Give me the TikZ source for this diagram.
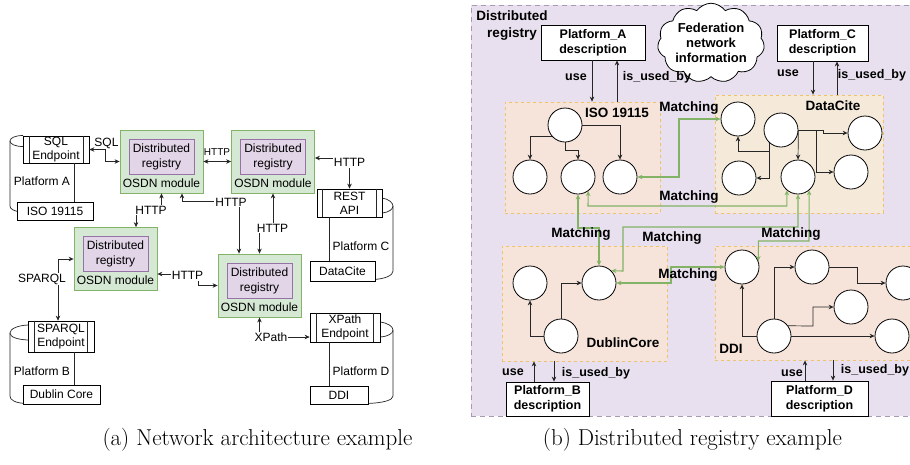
\documentclass[tikz,border=0pt]{standalone}
\usepackage{fontspec}
\newfontfamily\af{Liberation Sans}
\usetikzlibrary{arrows.meta,shapes.symbols}
\definecolor{gfill}{HTML}{D5E8D4}
\definecolor{gline}{HTML}{82B366}
\definecolor{pfill}{HTML}{E1D5E7}
\definecolor{pline}{HTML}{9673A6}
\definecolor{bgfill}{HTML}{E8E0EE}
\definecolor{bgline}{HTML}{A899B5}
\definecolor{ofill}{HTML}{F6E3DA}
\definecolor{yfill}{HTML}{F5EADA}
\definecolor{oline}{HTML}{F0C26A}
\definecolor{mgreen}{HTML}{82B366}
\tikzset{
  lbl/.style={font=\af\fontsize{12}{14}\selectfont, inner sep=1pt},
  wlbl/.style={lbl, fill=white},
  slbl/.style={font=\af\fontsize{10}{12}\selectfont, inner sep=1pt},
  module/.style={draw=gline, fill=gfill, line width=0.8pt, minimum width=83pt, minimum height=63pt, inner sep=0pt},
  inbox/.style={draw=pline, fill=pfill, line width=0.8pt, minimum width=65pt, minimum height=35pt, inner sep=0pt, align=center, font=\af\fontsize{12}{15}\selectfont},
  wbox/.style={draw, fill=white, line width=0.7pt, inner sep=0pt, align=center, font=\af\fontsize{12}{14}\selectfont},
  conn/.style={line width=0.7pt, draw=black!85},
  circ/.style={circle, draw, fill=white, minimum size=34pt, inner sep=0pt, line width=0.8pt},
  region/.style={draw=oline, dashed, line width=0.8pt, inner sep=0pt},
  bl/.style={font=\af\bfseries\fontsize{13.5}{17}\selectfont, inner sep=1pt},
  ul/.style={font=\af\bfseries\fontsize{12.5}{15}\selectfont, inner sep=1pt},
  desc/.style={draw, fill=white, line width=0.8pt, inner sep=0pt, align=center, font=\af\bfseries\fontsize{12.5}{15}\selectfont},
  match/.style={draw=mgreen, line width=1.1pt, <->},
  capt/.style={font=\fontsize{23}{27}\selectfont, inner sep=0pt}
}
\begin{document}
\begin{tikzpicture}[x=1pt,y=-1pt, >={Stealth[length=5pt,width=4.5pt]}]
\clip (0,0) rectangle (910,464);
\fill[white] (0,0) rectangle (910,464);

% ---------------- (a) ----------------
% half cylinders
\draw[conn] (23,135.5) .. controls (15,135.5) and (10,138) .. (10,141) -- (10,206) .. controls (10,209) and (14,211.5) .. (22,212);
\draw[conn] (10,141) .. controls (10,144) and (15,146.5) .. (23,146.5);
\draw[conn] (28,325) .. controls (17,325.5) and (10,329) .. (10,333) -- (10,396) .. controls (10,400) and (15,403) .. (26,403.5);
\draw[conn] (10,333) .. controls (10,337) and (17,339.5) .. (28,340);
\draw[conn] (382,198) .. controls (389,199) and (393,203) .. (393,206) -- (393,271) .. controls (393,275) and (386,279) .. (373,279.5);
\draw[conn] (393,206) .. controls (393,209) and (389,212.5) .. (382,213);
\draw[conn] (380,322) .. controls (388,323) and (393,326.5) .. (393,330) -- (393,396) .. controls (393,400) and (384,403) .. (366,403.5);
\draw[conn] (393,330) .. controls (393,333.5) and (388,336.5) .. (380,337);

% endpoint boxes
\node[wbox, minimum width=66pt, minimum height=27pt] (sqlA) at (56,149.5) {SQL\\Endpoint};
\node[wbox, minimum width=65pt, minimum height=28pt] (rest) at (349.5,203) {REST\\API};
\node[wbox, minimum width=66pt, minimum height=31pt] (sparql) at (61,336.5) {SPARQL\\Endpoint};
\node[wbox, minimum width=70pt, minimum height=29pt] (xpath) at (345,327.5) {XPath\\Endpoint};
\foreach \n/\a/\b in {sqlA/7/6, rest/6/6, sparql/7/7, xpath/7/7}{
  \draw[conn] ([xshift=\a pt]\n.north west) -- ([xshift=\a pt]\n.south west);
  \draw[conn] ([xshift=-\b pt]\n.north east) -- ([xshift=-\b pt]\n.south east);
}
% data boxes
\node[wbox, minimum width=76pt, minimum height=18pt] (isoA) at (55,211) {ISO 19115};
\node[wbox, minimum width=77pt, minimum height=19pt] (dcB) at (61.5,394.5) {Dublin Core};
\node[wbox, minimum width=65pt, minimum height=20pt] (dataC) at (342.5,271) {DataCite};
\node[wbox, minimum width=58pt, minimum height=18pt] (ddiD) at (339,395) {DDI};
\draw[conn] ([xshift=18pt]sqlA.south) -- ([xshift=18pt]sqlA.south |- isoA.north);
\draw[conn] ([xshift=13pt]sparql.south) -- ([xshift=13pt]sparql.south |- dcB.north);
\draw[conn] ([xshift=-20.5pt]rest.south) -- ([xshift=-20.5pt]rest.south |- dataC.north);
\draw[conn] ([xshift=-16pt]xpath.south) -- ([xshift=-16pt]xpath.south |- ddiD.north);
\node[lbl] (pA) at (42,181) {Platform A};
\node[lbl] (pB) at (42,371) {Platform B};
\node[lbl] (pC) at (361,246) {Platform C};
\node[lbl] (pD) at (361,371) {Platform D};

% modules
\node[module] (m1) at (161.5,161.5) {};
\node[inbox] (r1) at (161.5,156.5) {Distributed\\registry};
\node[lbl] (o1) at (161.5,183) {OSDN module};
\node[module] (m2) at (273,161.5) {};
\node[inbox] (r2) at (273,156.5) {Distributed\\registry};
\node[lbl] (o2) at (273,183) {OSDN module};
\node[module] (m3) at (115.5,259) {};
\node[inbox] (r3) at (115.5,254) {Distributed\\registry};
\node[lbl] (o3) at (115.5,280.5) {OSDN module};
\node[module] (m4) at (259.5,285.5) {};
\node[inbox] (r4) at (259.5,280.5) {Distributed\\registry};
\node[lbl] (o4) at (259.5,307) {OSDN module};

% connectors (a)
\draw[conn,<->] (sqlA.east) -- (105,149.5) |- (m1.west);
\node[lbl] (lsql) at (106.5,143) {SQL};
\draw[conn,<->] (m1.east) -- (m2.west);
\node[slbl] (lh12) at (217,152) {HTTP};
\draw[conn,<->] (m1.south) -- (161.5,210) -| ([xshift=20.5pt]m3.north);
\node[wlbl] (lh13) at (151,210) {HTTP};
\draw[conn,<->] ([xshift=20.5pt]m1.south) -- (182,201.5) -| ([xshift=-20.5pt]m4.north);
\node[wlbl] (lh14) at (231,202) {HTTP};
\draw[conn,<->] (m2.south) -- (273,228) -| (m4.north);
\node[wlbl] (lh24) at (272.5,228) {HTTP};
\draw[conn,<->] ([yshift=3.5pt]m2.east) -| (rest.north);
\node[wlbl] (lh2r) at (349.5,162.5) {HTTP};
\draw[conn,<->] ([yshift=-15pt]m3.east) -- (198,274) |- (m4.west);
\node[wlbl] (lh34) at (187.5,275.5) {HTTP};
\draw[conn,<->] (m3.west) -| ([xshift=-3pt]sparql.north);
\node[wlbl] (lsp) at (42,279) {SPARQL};
\draw[conn,<->] (m4.south) |- ([yshift=-9.5pt]xpath.west);
\node[wlbl] (lxp) at (271,337) {XPath};

% ---------------- (b) ----------------
\node[draw=bgline, fill=bgfill, dash pattern=on 5pt off 4pt, line width=0.8pt, minimum width=441pt, minimum height=411pt, inner sep=0pt] (outer) at (691.5,210.5) {};

\node[region, fill=ofill, minimum width=155pt, minimum height=111pt] (isoR) at (582.5,157.5) {};
\node[region, fill=yfill, minimum width=168pt, minimum height=118pt] (dtR) at (799,154) {};
\node[region, fill=ofill, minimum width=165pt, minimum height=115pt] (dbR) at (584.5,303.5) {};
\node[region, fill=ofill, minimum width=200pt, minimum height=114pt] (ddiR) at (815,303) {};
\node[bl] (tiso) at (617,113) {ISO 19115};
\node[bl] (tdt) at (833,106) {DataCite};
\node[bl] (tdb) at (623,343) {DublinCore};
\node[bl] (tddi) at (731,349) {DDI};

\node[desc, minimum width=104pt, minimum height=35pt] (pa) at (593,42.5) {Platform\_A\\description};
\node[desc, minimum width=91pt, minimum height=36pt] (pc) at (822.5,43) {Platform\_C\\description};
\node[desc, minimum width=83pt, minimum height=34pt] (pb) at (547.5,399) {Platform\_B\\description};
\node[desc, minimum width=97pt, minimum height=35pt] (pd) at (819.5,398.5) {Platform\_D\\description};
\node[cloud, cloud puffs=11, cloud puff arc=110, aspect=1.5, draw, fill=white, line width=0.8pt, minimum width=102pt, minimum height=70pt, inner sep=0pt, align=center, font=\af\bfseries\fontsize{13}{15}\selectfont] (fed) at (711,43) {Federation\\network\\information};
\node[bl, align=center] (drl) at (512,25.5) {Distributed\\registry};

% circles
\foreach \n/\x/\y in {i0/565/125, i1/530/177, i2/578/177, i3/620/177,
  c1/738/119, c2/781/130, c3/865/133, c4/739/178, c5/798/177, c6/851/172,
  d1/530/283, d2/599/283, d3/561/336,
  e1/742/267, e2/812/267, e3/903/283, e4/851/307, e5/774/336, e6/892/336}
  \node[circ] (\n) at (\x,\y) {};

% black edges
\draw[conn,->] (i0.220) -| (i1.north);
\draw[conn,->] (i0.south) -- (565,150) -| (i2.north);
\draw[conn,->] (i0.east) -| (i3.north);
\draw[conn,->] (c2.230) -- ++(0,8) -| (c1.south);
\draw[conn,->] (c2.230) |- (c4.east);
\draw[conn,->] (c2.east) -- (c5.north);
\draw[conn,->] (c2.east) -- (823,130) -- (823,133) -- (c3.west);
\draw[conn,->] (c2.east) -- (816,130) |- (c6.west);
\draw[conn,->] (d3.west) -| (d1.south);
\draw[conn,->] (d3.north) |- (d2.west);
\draw[conn,->] (e5.west) -| (e1.south);
\draw[conn,->] (e5.north) |- (e2.west);
\draw[conn,->] (e2.east) -- (857,267) |- (e3.west);
\draw[conn,->] (e5.36) -- (813,326) |- (e4.west);
\draw[conn,->] (e5.east) -- (e6.west);

% use / is_used_by
\draw[conn,->] ([xshift=-1pt]pa.south) -- ([xshift=-1pt]pa.south |- isoR.north);
\draw[conn,->] ([xshift=24pt]pa.south |- isoR.north) -- ([xshift=24pt]pa.south);
\node[ul] (ua) at (576,77) {use};
\node[ul] (iua) at (657,77) {is\_used\_by};
\draw[conn,->] ([xshift=-9.5pt]pc.south) -- ([xshift=-9.5pt]pc.south |- dtR.north);
\draw[conn,->] ([xshift=14.5pt]pc.south |- dtR.north) -- ([xshift=14.5pt]pc.south);
\node[ul] (uc) at (788,73) {use};
\node[ul] (iuc) at (872,75) {is\_used\_by};
\draw[conn,->] ([xshift=-13.5pt]pb.north) -- ([xshift=-13.5pt]pb.north |- dbR.south);
\draw[conn,->] ([xshift=6.5pt]pb.north |- dbR.south) -- ([xshift=6.5pt]pb.north);
\node[ul] (ub) at (513,372) {use};
\node[ul] (iub) at (596,373) {is\_used\_by};
\draw[conn,->] ([xshift=-14.5pt]pd.north) -- ([xshift=-14.5pt]pd.north |- ddiR.south);
\draw[conn,->] ([xshift=13.5pt]pd.north |- ddiR.south) -- ([xshift=13.5pt]pd.north);
\node[ul] (ud) at (792,373) {use};
\node[ul] (iud) at (875,370) {is\_used\_by};

% matching
\draw[match] (i3.east) -- (679,177) |- (c1.west);
\node[bl] (mt1) at (689,108) {Matching};
\draw[match] (i2.-54) -- (588,206) -| (c5.230);
\node[bl] (mt2) at (689,197) {Matching};
\draw[match] (i2.south) -- (578,228) -| (d2.north);
\node[bl] (mt3) at (581,234) {Matching};
\draw[match] (d2.45) -- (623,271) -- (623,227) -| (c5.south);
\node[bl] (mt4) at (672,238) {Matching};
\draw[match] (d2.east) -- (671,283) |- (e1.west);
\node[bl] (mt5) at (688,275) {Matching};
\draw[match] (c5.-50) -- (809,241) -| (e1.20);
\node[bl] (mt6) at (791,234) {Matching};

% captions
\node[capt] (ca) at (257.5,440) {(a) Network architecture example};
\node[capt] (cb) at (692.5,440) {(b) Distributed registry example};
\end{tikzpicture}
\end{document}
